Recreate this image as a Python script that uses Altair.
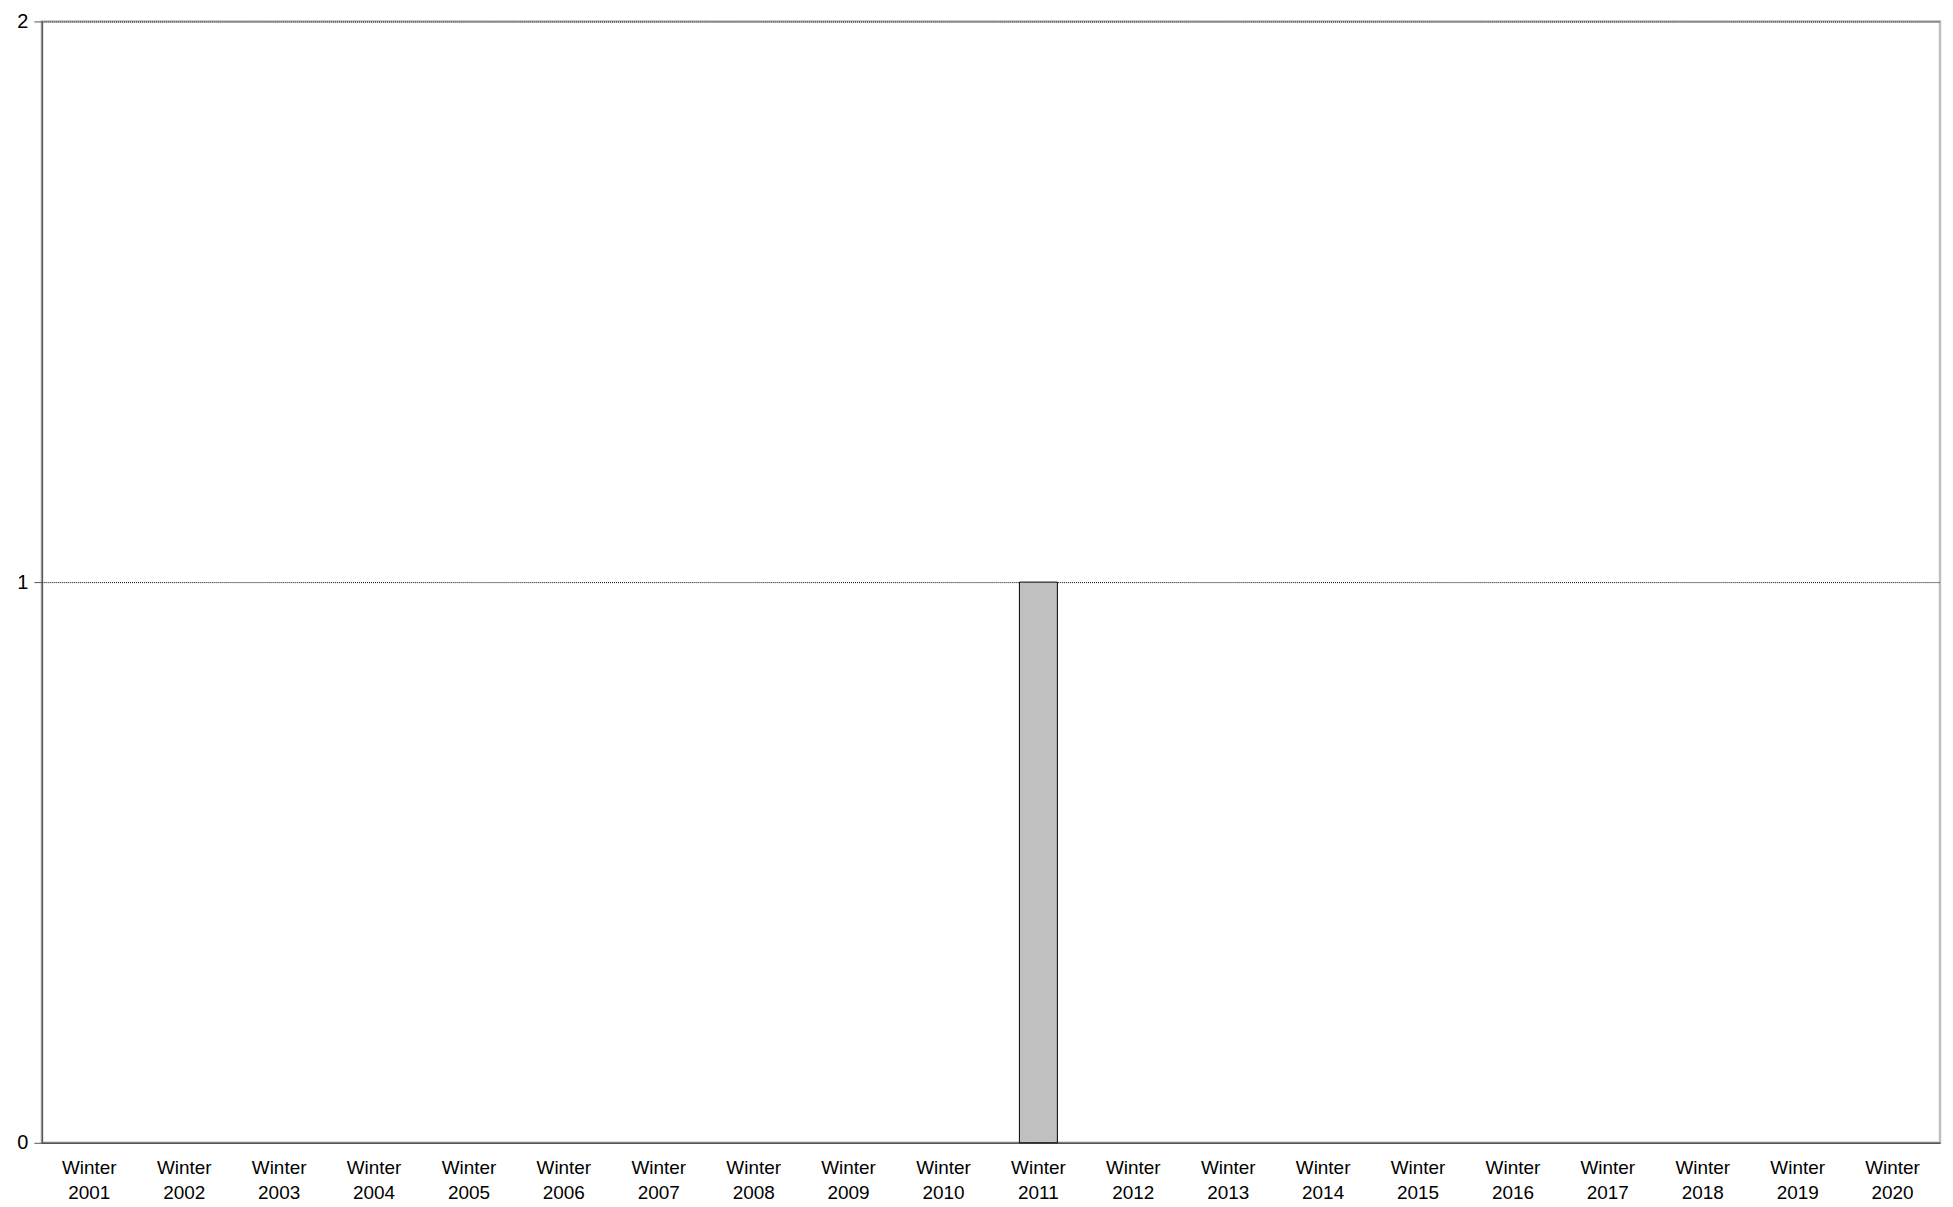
import pandas as pd
import altair as alt

seasons = [f"Winter {y}" for y in range(2001, 2021)]
events = [0] * 20
events[seasons.index("Winter 2011")] = 1

df = pd.DataFrame({"season": seasons, "events": events})

bars = alt.Chart(df).mark_bar(color="#c0c0c0", strokeWidth=1).encode(
    x=alt.X("season:N", sort=seasons, title=None,
            scale=alt.Scale(paddingInner=0.6, paddingOuter=0.3),
            axis=alt.Axis(labelAngle=0, labelExpr="split(datum.label, ' ')",
                          labelFont="Liberation Sans", labelFontSize=19, labelColor="#000",
                          labelPadding=16, ticks=False, domainColor="#555", domainWidth=1.5,
                          labelLineHeight=25)),
    y=alt.Y("events:Q", title=None, scale=alt.Scale(domain=[0, 2], nice=False),
            axis=alt.Axis(tickCount=2, format="d", labelFont="Liberation Sans",
                          labelFontSize=20, labelColor="#000", tickColor="#555", tickSize=8,
                          labelPadding=6, domainColor="#555", domainWidth=1.5, labelOverlap=False,
                          grid=True, gridColor="#000", gridDash=[1, 1], gridWidth=1)),
    stroke=alt.condition("datum.events > 0", alt.value("#000000"), alt.value(None)),
)

chart = bars.properties(
    width=1906, height=1126,
    autosize=alt.AutoSizeParams(type="none"),
    padding={"left": 34, "top": 11, "right": 5, "bottom": 60},
).configure_view(stroke="#c0c0c0", strokeWidth=2.5)

chart.save("out.html", embed_options={"renderer": "svg", "actions": False})
